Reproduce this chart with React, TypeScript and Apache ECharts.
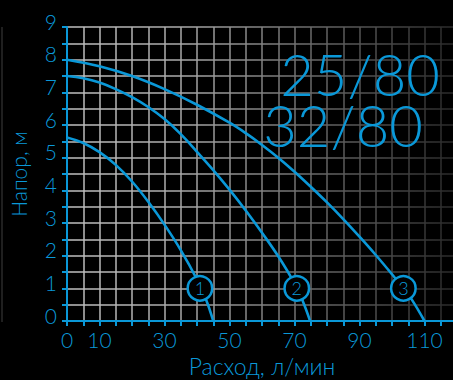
import React, { useEffect, useRef } from 'react';
import * as echarts from 'echarts';

// Pump curves: [flow л/мин, head м]
const curve1 = [
  [0, 5.62], [5, 5.45], [10, 5.17], [15, 4.78], [20, 4.27], [25, 3.65],
  [30, 2.95], [35, 2.17], [40, 1.27], [42.8, 0.65], [45, 0],
];
const curve2 = [
  [0, 7.5], [5, 7.43], [10, 7.3], [15, 7.1], [20, 6.85], [25, 6.55],
  [30, 6.18], [35, 5.72], [40, 5.18], [45, 4.62], [50, 4.02], [55, 3.38],
  [60, 2.7], [65, 1.98], [70, 1.15], [72.5, 0.62], [74.8, 0],
];
const curve3 = [
  [0, 8.0], [10, 7.8], [20, 7.5], [30, 7.1], [40, 6.62], [50, 6.07],
  [55, 5.75], [60, 5.39], [65, 5.0], [70, 4.57], [75, 4.11], [80, 3.63],
  [85, 3.12], [90, 2.58], [95, 2.02], [100, 1.43], [103.5, 1.0], [106, 0.67],
  [110, 0],
];
const markerNames = ['1', '2', '3'];
const markerX = [40.9, 70.7, 103.5];
const markerY = [1.0, 1.0, 1.0];
const xLabels = [0, 10, 30, 50, 70, 90, 110];
const yLabels = [0, 1, 2, 3, 4, 5, 6, 7, 8, 9];
const models = ['25/80', '32/80'];
const xName = 'Расход, л/мин';
const yName = 'Напор, м';

const BLUE = '#0a98d8';
const FONT = 'Lato, "Open Sans", sans-serif';

export default function App() {
  const ref = useRef<HTMLDivElement>(null);
  useEffect(() => {
    document.body.style.margin = '0';
    document.body.style.background = '#000';
    const chart = echarts.init(ref.current!, null, { renderer: 'svg' });
    const gridColor = {
      type: 'linear', x: 67, y: 0, x2: 453, y2: 0, global: true,
      colorStops: [
        { offset: 0, color: '#c0c0c0' },
        { offset: 0.3, color: '#aaaaaa' },
        { offset: 0.6, color: '#707070' },
        { offset: 1, color: '#2a2a2a' },
      ],
    };
    const lineSeries = (data: number[][]) => ({
      type: 'line', data, smooth: 0.4, symbol: 'none', z: 3,
      lineStyle: { color: BLUE, width: 2.6 },
    });
    chart.setOption({
      animation: false,
      backgroundColor: '#000',
      grid: { left: 67, top: 27, width: 390, height: 294, outerBoundsMode: 'none', containLabel: false },
      xAxis: {
        type: 'value', min: 0, max: 120, interval: 5,
        axisLine: { lineStyle: { color: BLUE, width: 2 } },
        axisTick: { show: true, length: 5, lineStyle: { color: BLUE, width: 2 } },
        axisLabel: {
          interval: 0, margin: 8, color: BLUE, fontSize: 21, fontFamily: FONT, fontWeight: 300,
          formatter: (v: number) => (xLabels.includes(v) ? String(v) : ''),
        },
        splitLine: { show: true, lineStyle: { color: gridColor, width: 1.5 } },
      },
      yAxis: {
        type: 'value', min: 0, max: 9, interval: 0.5,
        axisLine: { show: true, lineStyle: { color: BLUE, width: 2 } },
        axisTick: { show: true, length: 5, lineStyle: { color: BLUE, width: 2 } },
        axisLabel: {
          margin: 10, color: BLUE, fontSize: 21, fontFamily: FONT, fontWeight: 300,
          verticalAlign: 'bottom', lineHeight: 12,
          formatter: (v: number) => (yLabels.includes(v) ? String(v) : ''),
        },
        splitLine: { show: true, lineStyle: { color: gridColor, width: 1.5 } },
      },
      series: [
        lineSeries(curve1),
        lineSeries(curve2),
        lineSeries(curve3),
        {
          type: 'scatter', z: 5, symbol: 'circle', symbolSize: 24.5,
          data: markerNames.map((n, i) => ({ name: n, value: [markerX[i], markerY[i]] })),
          itemStyle: { color: '#000', borderColor: BLUE, borderWidth: 2.5, opacity: 1 },
          label: {
            show: true, position: 'inside', formatter: '{b}', color: BLUE,
            fontSize: 18, fontFamily: FONT, fontWeight: 300,
          },
        },
      ],
      graphic: [
        { type: 'line', shape: { x1: 2, y1: 27, x2: 2, y2: 322 }, style: { stroke: '#2a2a2a', lineWidth: 1.5 } },
        {
          type: 'text', x: 440, y: 73, z: 10,
          style: { text: models[0], fill: BLUE, font: `300 58px ${FONT}`, lineHeight: 46, textAlign: 'right', textVerticalAlign: 'middle' },
        },
        {
          type: 'text', x: 423, y: 124, z: 10,
          style: { text: models[1], fill: BLUE, font: `300 58px ${FONT}`, lineHeight: 46, textAlign: 'right', textVerticalAlign: 'middle' },
        },
        {
          type: 'text', x: 262, y: 366, z: 10,
          style: { text: xName, fill: BLUE, font: `300 23px ${FONT}`, textAlign: 'center', textVerticalAlign: 'middle' },
        },
        {
          type: 'text', x: 18.5, y: 174, rotation: Math.PI / 2, z: 10,
          style: { text: yName, fill: BLUE, font: `300 21px ${FONT}`, textAlign: 'center', textVerticalAlign: 'middle' },
        },
      ],
    });
    return () => chart.dispose();
  }, []);
  return <div ref={ref} style={{ width: 453, height: 380 }} />;
}
